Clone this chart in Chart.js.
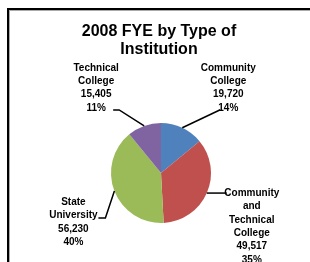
<!DOCTYPE html>
<html>
<head>
<meta charset="utf-8">
<script src="https://cdn.jsdelivr.net/npm/chart.js@4/dist/chart.umd.min.js"></script>
<style>
  html, body { margin: 0; padding: 0; background: #fff; }
  #wrap { width: 310px; height: 262px; position: relative; }
</style>
</head>
<body>
<div id="wrap"><canvas id="fyeChart" width="310" height="262"></canvas></div>
<script>
// Datos del gráfico
const chartTitle = ['2008 FYE by Type of', 'Institution'];
const categories = [['Community', 'College'], ['Community', 'and', 'Technical', 'College'], ['State', 'University'], ['Technical', 'College']];
const fyeValues = [19720, 49517, 56230, 15405];
const sliceColors = ['#4F81BD', '#C0504D', '#9BBB59', '#8064A2'];

// Posición de cada etiqueta respecto al borde del sector (elbow, fin de línea, centro del texto)
const labelLayout = [
    { elbow: [38, -18], end: [38, -18], text: [46, -60] },
    { elbow: [20, 0], end: [20, 0], text: [45, 0] },
    { elbow: [-9, 27], end: [-16, 27], text: [-41, 11] },
    { elbow: [-25, -16], end: [-31, -16], text: [-48, -58] }
];

// Marco estilo Excel y título
const framePlugin = {
    id: 'frame',
    beforeDraw(chart) {
        const ctx = chart.ctx;
        ctx.save();
        ctx.fillStyle = '#fff';
        ctx.fillRect(0, 0, chart.width, chart.height);
        ctx.fillStyle = '#000';
        ctx.fillRect(7, 8, chart.width - 7, 2);
        ctx.fillRect(7, 8, 2, chart.height - 8);
        ctx.fillStyle = '#aaa';
        ctx.fillRect(9, 10, chart.width - 9, 1);
        ctx.fillRect(9, 10, 1, chart.height - 10);

        ctx.fillStyle = '#000';
        ctx.font = 'bold 16px "Liberation Sans", sans-serif';
        ctx.textAlign = 'center';
        ctx.textBaseline = 'middle';
        chartTitle.forEach(function (txt, k) {
            ctx.fillText(txt, 159, 32 + k * 18);
        });
        ctx.restore();
    }
};

// Etiquetas con líneas guía
const leaderLabels = {
    id: 'leaderLabels',
    afterDatasetsDraw(chart) {
        const ctx = chart.ctx;
        const meta = chart.getDatasetMeta(0);
        const total = fyeValues.reduce((a, b) => a + b, 0);
        ctx.save();
        meta.data.forEach(function (arc, i) {
            const mid = (arc.startAngle + arc.endAngle) / 2;
            const ex = arc.x + Math.cos(mid) * arc.outerRadius;
            const ey = arc.y + Math.sin(mid) * arc.outerRadius;
            const lay = labelLayout[i];

            ctx.strokeStyle = '#000';
            ctx.lineWidth = 1.5;
            ctx.beginPath();
            ctx.moveTo(ex, ey);
            ctx.lineTo(ex + lay.elbow[0], ey + lay.elbow[1]);
            ctx.lineTo(ex + lay.end[0], ey + lay.end[1]);
            ctx.stroke();

            const lines = categories[i].concat([
                fyeValues[i].toLocaleString('en-US'),
                Math.round(fyeValues[i] / total * 100) + '%'
            ]);
            ctx.fillStyle = '#000';
            ctx.font = 'bold 10px "Liberation Sans Narrow", "Liberation Sans", sans-serif';
            ctx.textAlign = 'center';
            ctx.textBaseline = 'middle';
            lines.forEach(function (txt, k) {
                ctx.fillText(txt, ex + lay.text[0], ey + lay.text[1] + k * 13.4);
            });
        });
        ctx.restore();
    }
};

document.addEventListener('DOMContentLoaded', function () {
    const ctx = document.getElementById('fyeChart').getContext('2d');
    new Chart(ctx, {
        type: 'pie',
        data: {
            labels: categories,
            datasets: [{
                data: fyeValues,
                backgroundColor: sliceColors,
                borderWidth: 0
            }]
        },
        options: {
            responsive: false,
            animation: false,
            layout: { padding: { top: 123, bottom: 39, left: 111, right: 99 } },
            plugins: {
                legend: { display: false },
                tooltip: { enabled: false },
                title: { display: false }
            }
        },
        plugins: [framePlugin, leaderLabels]
    });
});
</script>
</body>
</html>
